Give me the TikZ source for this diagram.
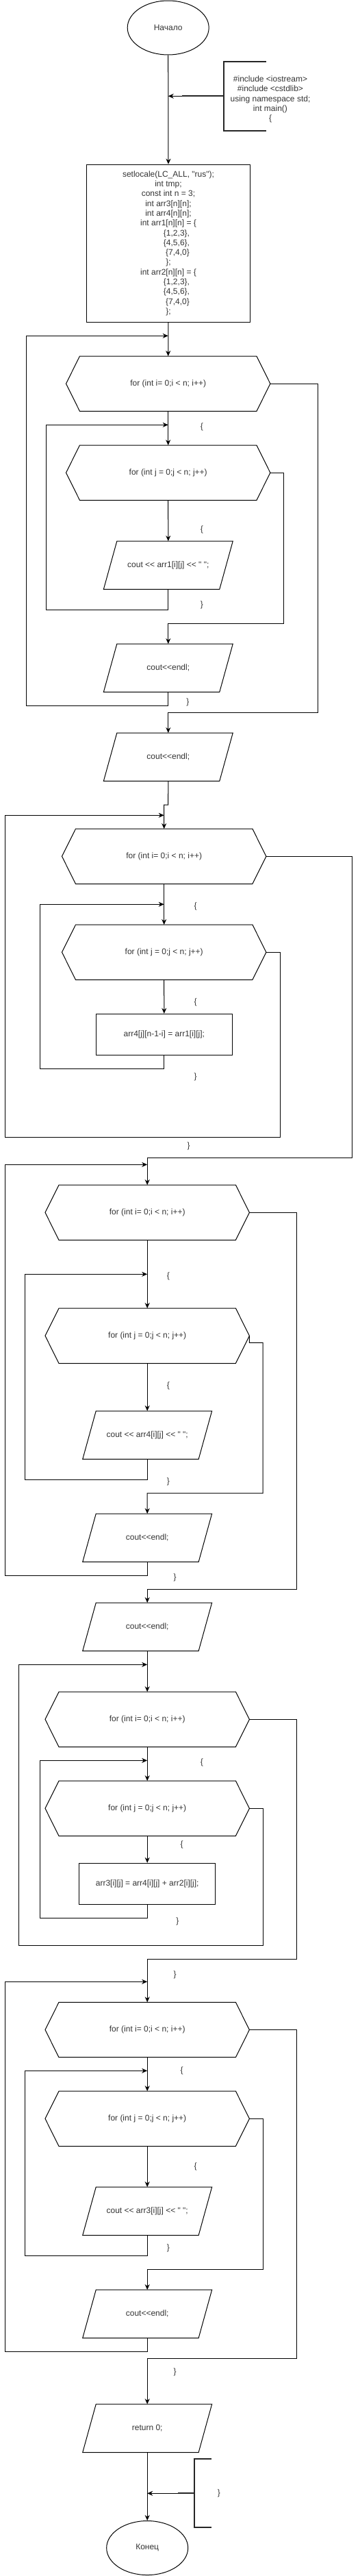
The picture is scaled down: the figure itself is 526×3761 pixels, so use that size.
\documentclass[tikz,border=0pt]{standalone}
\usepackage{fontspec}
\setmainfont{Liberation Sans}[Ligatures=TeXOff]
\usetikzlibrary{arrows.meta,shapes.geometric}
\tikzset{
  line/.style={line width=1pt, draw=black},
  arr/.style={line, -{Stealth[length=8pt,width=7pt]}},
  txt/.style={text=black!80, font=\fontsize{12}{14.3}\selectfont, align=center, inner sep=0pt},
  bracket/.style={line width=2pt, draw=black!85},
  lbl/.style={txt}
}
\newcommand\hexnode[3]{%
  \node[txt, minimum width=298pt, minimum height=80pt] (#1) at (#2) {#3};
  \draw[line] ([xshift=20pt]#1.north west) -- ([xshift=-20pt]#1.north east) -- (#1.east)
     -- ([xshift=-20pt]#1.south east) -- ([xshift=20pt]#1.south west) -- (#1.west) -- cycle;}
\newcommand\ionode[3]{%
  \node[txt, minimum width=188.5pt, minimum height=70pt] (#1) at (#2) {#3};
  \draw[line] ([xshift=19.5pt]#1.north west) -- (#1.north east)
     -- ([xshift=-19.5pt]#1.south east) -- (#1.south west) -- cycle;}
\begin{document}
\begin{tikzpicture}[x=1pt,y=-1pt]
\useasboundingbox (0,0) rectangle (526,3761);

% ---------- start ----------
\node[txt, draw=black, line width=1pt, ellipse, minimum width=119pt, minimum height=79pt] (start) at (245.7,40.5) {Начало};
\node[txt] (note1) at (395,145) {\#include <iostream>\\\#include <cstdlib>\\using namespace std;\\int main()\\\{};
\draw[bracket] (389,90) -- (327,90) -- (327,190.7) -- (389,190.7);
\coordinate (n1s) at (265.7,140.3);
\coordinate (m1) at (245.7,140.3);
\draw[bracket] (327,140.3) -- (n1s);

\node[txt, draw=black, line width=1pt, minimum width=238.6pt, minimum height=230pt] (init) at (246,355.2)
 {setlocale(LC\_ALL, "rus");\\int tmp;\\const int n = 3;\\int arr3[n][n];\\int arr4[n][n];\\int arr1[n][n] = \{\\
  \hspace*{24pt}\{1,2,3\},\\\hspace*{24pt}\{4,5,6\},\\\hspace*{27pt}\{7,4,0\}\\\};\\
  int arr2[n][n] = \{\\\hspace*{24pt}\{1,2,3\},\\\hspace*{24pt}\{4,5,6\},\\\hspace*{27pt}\{7,4,0\}\\\};};

% ---------- block 1 ----------
\hexnode{for1}{245.7,560.2}{for (int i= 0;i < n; i++)}
\hexnode{for2}{245.7,690.2}{for (int j = 0;j < n; j++)}
\ionode{p1}{245.8,825.2}{cout << arr1[i][j] << " ";}
\ionode{e1}{245.8,975.2}{cout<<endl;}
\ionode{e2}{245.8,1105.2}{cout<<endl;}

\node[lbl] (l1) at (295,623) {\{};
\node[lbl] (l2) at (295,773.3) {\{};
\node[lbl] (l3) at (295,883.3) {\}};
\node[lbl] (l4) at (274.3,1025.7) {\}};

\coordinate (in1) at (245.7,490.3);
\coordinate (in2) at (245.7,620.3);
\coordinate (b1) at (67.3,890);
\coordinate (b2) at (414.7,910);
\coordinate (b3) at (38.3,1030);
\coordinate (b4) at (464.3,1040);
\coordinate (b5) at (245.7,1175);

% ---------- block 2 ----------
\hexnode{for3}{239.7,1250.3}{for (int i= 0;i < n; i++)}
\hexnode{for4}{239.7,1390.3}{for (int j = 0;j < n; j++)}
\node[txt, draw=black, line width=1pt, minimum width=199pt, minimum height=60pt] (r1) at (239.8,1510.3) {arr4[j][n-1-i] = arr1[i][j];};

\node[lbl] (l5) at (285.7,1323.3) {\{};
\node[lbl] (l6) at (285.7,1463.3) {\{};
\node[lbl] (l7) at (285.7,1572.7) {\}};
\node[lbl] (l8) at (275.7,1673.3) {\}};

\coordinate (in3) at (239.7,1190.3);
\coordinate (in4) at (239.7,1320.3);
\coordinate (b6) at (58.3,1560);
\coordinate (b7) at (409,1660);
\coordinate (b8) at (7.3,1660);
\coordinate (b9) at (514,1690.3);

% ---------- block 3 ----------
\hexnode{for5}{215.2,1770.3}{for (int i= 0;i < n; i++)}
\hexnode{for6}{215.2,1950.3}{for (int j = 0;j < n; j++)}
\ionode{p2}{215.2,2095.2}{cout << arr4[i][j] << " ";}
\ionode{e3}{215.2,2245.2}{cout<<endl;}
\ionode{e4}{215.2,2375.2}{cout<<endl;}

\node[lbl] (l9) at (246,1863.3) {\{};
\node[lbl] (l10) at (246,2023.3) {\{};
\node[lbl] (l11) at (246,2163.3) {\}};
\node[lbl] (l12) at (255.7,2303.3) {\}};

\coordinate (in5) at (215.2,1700.3);
\coordinate (in6) at (215.2,1860.3);
\coordinate (b10) at (36,2160);
\coordinate (b11a) at (364.3,1960.3);
\coordinate (b11) at (384,2180);
\coordinate (b12) at (7.3,2300);
\coordinate (b13) at (433.7,2320.3);

% ---------- block 4 ----------
\hexnode{for7}{215.2,2510.3}{for (int i= 0;i < n; i++)}
\hexnode{for8}{215.2,2640.3}{for (int j = 0;j < n; j++)}
\node[txt, draw=black, line width=1pt, minimum width=199pt, minimum height=60pt] (r2) at (215.2,2750.3) {arr3[i][j] = arr4[i][j] + arr2[i][j];};

\node[lbl] (l13) at (295,2573.3) {\{};
\node[lbl] (l14) at (265.7,2693.3) {\{};
\node[lbl] (l15) at (259.3,2805) {\}};
\node[lbl] (l16) at (255.7,2883.3) {\}};

\coordinate (in7) at (215.2,2430.3);
\coordinate (in8) at (215.2,2570.3);
\coordinate (b14) at (58.3,2800);
\coordinate (b15) at (384,2840);
\coordinate (b16) at (27,2840);
\coordinate (b17) at (433.7,2860.3);

% ---------- block 5 ----------
\hexnode{for9}{215.2,2963.5}{for (int i= 0;i < n; i++)}
\hexnode{for10}{215.2,3093.3}{for (int j = 0;j < n; j++)}
\ionode{p3}{215.2,3228.3}{cout << arr3[i][j] << " ";}
\ionode{e5}{215.2,3378.3}{cout<<endl;}
\ionode{ret}{215.2,3545.3}{return 0;}
\node[txt, draw=black, line width=1pt, ellipse, minimum width=119pt, minimum height=79pt] (end) at (215.2,3720) {Конец};

\node[lbl] (l17) at (265.7,3023.3) {\{};
\node[lbl] (l18) at (285.7,3163.3) {\{};
\node[lbl] (l19) at (246,3282.7) {\}};
\node[lbl] (l20) at (255.7,3463.3) {\}};

\coordinate (in9) at (215.2,2893.3);
\coordinate (in10) at (215.2,3023.3);
\coordinate (b18) at (36,3293);
\coordinate (b19) at (384,3313.3);
\coordinate (b20) at (7.3,3433.3);
\coordinate (b21) at (433.7,3443.3);

\node[lbl] (note2) at (320,3640.3) {\}};
\draw[bracket] (309.3,3590.3) -- (284.3,3590.3) -- (284.3,3690.3) -- (309.3,3690.3);
\coordinate (n2s) at (259.7,3640.3);
\coordinate (m2) at (215.2,3640.3);
\draw[bracket] (284.3,3640.3) -- (n2s);

% ---------- connectors ----------
\draw[arr] (start.south) -- (init.north);
\draw[arr] (n1s) -- (m1);
\draw[arr] (init.south) -- (for1.north);
\draw[arr] (for1.south) -- (for2.north);
\draw[arr] (for2.south) -- (p1.north);
\draw[arr] (p1.south) |- (b1) |- (in2);
\draw[arr] (for2.east) -| (b2) -| (e1.north);
\draw[arr] (e1.south) |- (b3) |- (in1);
\draw[arr] (for1.east) -| (b4) -| (e2.north);
\draw[arr] (e2.south) -- (b5) -| (for3.north);

\draw[arr] (for3.south) -- (for4.north);
\draw[arr] (for4.south) -- (r1.north);
\draw[arr] (r1.south) |- (b6) |- (in4);
\draw[arr] (for4.east) -| (b7) -- (b8) |- (in3);
\draw[arr] (for3.east) -| (b9) -| (for5.north);

\draw[arr] (for5.south) -- (for6.north);
\draw[arr] (for6.south) -- (p2.north);
\draw[arr] (p2.south) |- (b10) |- (in6);
\draw[arr] (for6.east) -- (b11a) -| (b11) -| (e3.north);
\draw[arr] (e3.south) |- (b12) |- (in5);
\draw[arr] (for5.east) -| (b13) -| (e4.north);

\draw[arr] (e4.south) -- (for7.north);
\draw[arr] (for7.south) -- (for8.north);
\draw[arr] (for8.south) -- (r2.north);
\draw[arr] (r2.south) |- (b14) |- (in8);
\draw[arr] (for8.east) -| (b15) -- (b16) |- (in7);
\draw[arr] (for7.east) -| (b17) -| (for9.north);

\draw[arr] (for9.south) -- (for10.north);
\draw[arr] (for10.south) -- (p3.north);
\draw[arr] (p3.south) |- (b18) |- (in10);
\draw[arr] (for10.east) -| (b19) -| (e5.north);
\draw[arr] (e5.south) |- (b20) |- (in9);
\draw[arr] (for9.east) -| (b21) -| (ret.north);
\draw[arr] (ret.south) -- (end.north);
\draw[arr] (n2s) -- (m2);
\end{tikzpicture}
\end{document}
